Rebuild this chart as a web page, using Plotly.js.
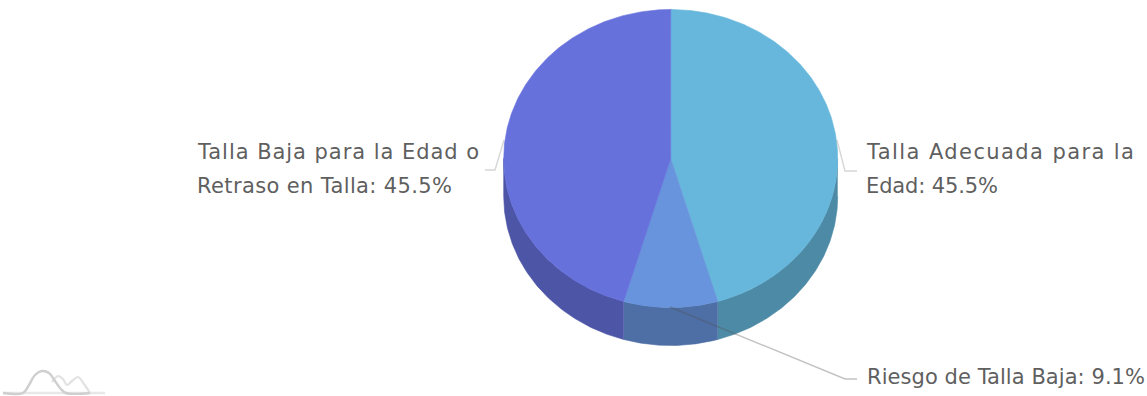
<!DOCTYPE html>
<html><head><meta charset="utf-8">
<script src="https://cdn.plot.ly/plotly-3.0.1.min.js"></script>
<style>html,body{margin:0;padding:0;background:#fff}#c{width:1147px;height:396px}</style>
</head><body><div id="c"></div>
<script>
const categories = ["Talla Adecuada para la Edad", "Riesgo de Talla Baja", "Talla Baja para la Edad o Retraso en Talla"];
const shares = [45.5, 9.1, 45.5];
const topColors = ["#67b7dc", "#6794dc", "#6771dc"];
const sideColors = ["#4d8aa6", "#4d6fa6", "#4d55a6"];
const labelLines = [["Talla Adecuada para la", "Edad: 45.5%"], ["Riesgo de Talla Baja: 9.1%"], ["Talla Baja para la Edad o", "Retraso en Talla: 45.5%"]];
const labelX = [865, 866, 196];
const labelY = [[152, 186], [377], [152, 186]];
const labelWidths = [[267, 132], [278], [281, 255]];
const leaderX = [[837, 845, 857], [670, 845, 857], [504, 495, 485]];
const leaderY = [[140, 171, 171], [307, 379, 379], [140, 170, 170]];

const logoBaseX = [3, 105], logoBaseY = [393, 393];
const logoDarkX = [3, 23, 29, 35, 42, 49, 55, 60, 66, 90];
const logoDarkY = [393, 393, 385, 375, 371, 373, 381, 388, 393, 393];
const logoSecondX = [52, 58, 63, 67, 72, 78, 84, 90];
const logoSecondY = [382, 376, 379, 385, 381, 377, 384, 393];

const cx = 670.7, cy = 158.5, rx = 167, ry = 149, depth = 38;
const total = shares.reduce((a, b) => a + b, 0);

function pt(t, dy) { return [cx + rx * Math.sin(t), cy - ry * Math.cos(t) + dy]; }
function arc(a, b, dy) {
  const n = Math.max(2, Math.ceil(Math.abs(b - a) / 0.01)), out = [];
  for (let i = 0; i <= n; i++) out.push(pt(a + (b - a) * i / n, dy));
  return out;
}
function poly(points, color) {
  return { type: "scatter", mode: "lines", x: points.map(p => p[0]), y: points.map(p => p[1]),
    fill: "toself", fillcolor: color, line: { width: 0.6, color: color }, hoverinfo: "skip", showlegend: false };
}
const traces = [];
let start = 0;
const spans = shares.map(v => { const s = [start, start + v / total * 2 * Math.PI]; start = s[1]; return s; });
spans.forEach((s, i) => {
  const a = Math.max(s[0], Math.PI / 2), b = Math.min(s[1], 3 * Math.PI / 2);
  if (b > a) traces.push(poly(arc(a, b, 0).concat(arc(b, a, depth)), sideColors[i]));
});
spans.forEach((s, i) => {
  traces.push(poly([[cx, cy]].concat(arc(s[0], s[1], 0)).concat([[cx, cy]]), topColors[i]));
});
categories.forEach((c, i) => {
  traces.push({ type: "scatter", mode: "lines", x: leaderX[i], y: leaderY[i], name: c,
    line: { width: 1.4, color: i === 1 ? "rgba(80,80,80,0.35)" : "rgba(90,90,90,0.25)" }, hoverinfo: "skip", showlegend: false });
});
traces.push({ type: "scatter", mode: "lines", x: logoBaseX, y: logoBaseY, line: { width: 2.4, color: "#e8e8e8" }, hoverinfo: "skip", showlegend: false });
traces.push({ type: "scatter", mode: "lines", x: logoSecondX, y: logoSecondY, line: { width: 2.2, color: "#e2e2e2", shape: "spline" }, hoverinfo: "skip", showlegend: false });
traces.push({ type: "scatter", mode: "lines", x: logoDarkX, y: logoDarkY, line: { width: 2.4, color: "#cfcfcf", shape: "spline" }, hoverinfo: "skip", showlegend: false });

const annotations = [], targets = {};
labelLines.forEach((lines, i) => lines.forEach((t, j) => {
  targets[t] = labelWidths[i][j];
  annotations.push({
    text: t, x: labelX[i], y: labelY[i][j], xref: "x", yref: "y", xanchor: "left", yanchor: "middle",
    showarrow: false, align: "left", borderpad: 0, font: { family: "'DejaVu Sans', sans-serif", size: 21, color: "#5f5f5f" }
  });
}));

const layout = {
  width: 1147, height: 396, margin: { l: 0, r: 0, t: 0, b: 0 }, paper_bgcolor: "#fff", plot_bgcolor: "#fff",
  xaxis: { range: [0, 1147], visible: false, fixedrange: true },
  yaxis: { range: [396, 0], visible: false, fixedrange: true },
  annotations, showlegend: false
};
Plotly.newPlot("c", traces, layout, { displayModeBar: false, staticPlot: true }).then(() => {
  document.querySelectorAll("#c .annotation-text").forEach(el => {
    const txt = el.textContent, w = targets[txt];
    if (w) {
      const dx = (w - el.getComputedTextLength()) / (txt.length - 1);
      el.style.letterSpacing = dx.toFixed(3) + "px";
    }
  });
});
</script></body></html>
